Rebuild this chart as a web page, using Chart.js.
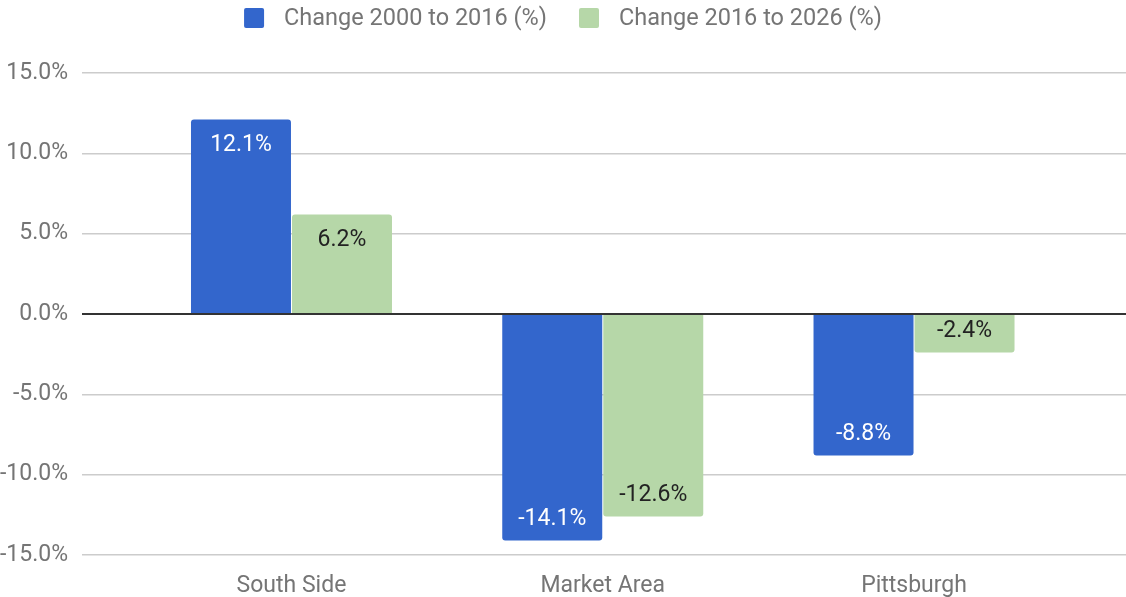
<!DOCTYPE html>
<html>
<head>
<meta charset="utf-8">
<script src="https://cdn.jsdelivr.net/npm/chart.js@4"></script>
<style>
  body { margin: 0; background: #fff; }
  #wrap { width: 1126px; height: 597px; position: relative; }
</style>
</head>
<body>
<div id="wrap"><canvas id="chart"></canvas></div>
<script>
let categories = ['South Side', 'Market Area', 'Pittsburgh']
let seriesNames = ['Change 2000 to 2016 (%)', 'Change 2016 to 2026 (%)']
let change2000to2016 = [12.1, -14.1, -8.8]
let change2016to2026 = [6.2, -12.6, -2.4]
let yTicks = [-15, -10, -5, 0, 5, 10, 15]

let colors = ['#3366cc', '#b6d7a8']
let labelColors = ['#ffffff', '#222222']
let font = 'Roboto'

// legend drawn on the canvas so the box/text gaps match the original
const topLegend = {
  id: 'topLegend',
  afterDraw(chart) {
    const ctx = chart.ctx
    ctx.save()
    ctx.font = '23.5px ' + font
    ctx.textBaseline = 'middle'
    const box = 20, gapText = 20, gapItem = 32
    let widths = chart.data.datasets.map(d => ctx.measureText(d.label).width)
    let total = 0
    widths.forEach((w, i) => { total += box + gapText + w + (i ? gapItem : 0) })
    let x = (chart.width - total) / 2
    const cy = 18
    chart.data.datasets.forEach((d, i) => {
      ctx.fillStyle = d.backgroundColor
      ctx.beginPath()
      ctx.roundRect(x, cy - box / 2, box, box, 2)
      ctx.fill()
      x += box + gapText
      ctx.fillStyle = '#757575'
      ctx.textAlign = 'left'
      ctx.fillText(d.label, x, cy + 1)
      x += widths[i] + gapItem
    })
    ctx.restore()
  }
}

// value labels inside the bar ends
const barLabels = {
  id: 'barLabels',
  afterDatasetsDraw(chart) {
    const ctx = chart.ctx
    ctx.save()
    ctx.font = '23px ' + font
    ctx.textAlign = 'center'
    ctx.textBaseline = 'middle'
    chart.data.datasets.forEach((d, di) => {
      chart.getDatasetMeta(di).data.forEach((el, i) => {
        let v = d.data[i].y
        let y = v >= 0 ? el.y + 26 : el.y - 21
        ctx.fillStyle = labelColors[di]
        ctx.fillText(v.toFixed(1) + '%', el.x, y)
      })
    })
    ctx.restore()
  }
}

new Chart(document.getElementById('chart').getContext('2d'), {
  type: 'bar',
  data: {
    datasets: [change2000to2016, change2016to2026].map((vals, s) => ({
      label: seriesNames[s],
      data: vals.map((v, i) => ({ x: i, y: v })),
      backgroundColor: colors[s],
      borderRadius: 3,
      categoryPercentage: 0.649,
      barPercentage: 0.99
    }))
  },
  options: {
    responsive: true,
    maintainAspectRatio: false,
    animation: false,
    layout: { padding: { top: 73, right: 0, bottom: 0, left: 0 } },
    plugins: { legend: { display: false }, tooltip: { enabled: false } },
    scales: {
      x: {
        type: 'linear',
        min: -0.673,
        max: 2.681,
        offset: false,
        grid: { display: false, offset: false },
        border: { display: false },
        afterBuildTicks: s => { s.ticks = categories.map((c, i) => ({ value: i })) },
        afterFit: s => { s.height = 42 },
        ticks: {
          padding: 9,
          color: '#757575',
          font: { family: font, size: 23 },
          maxRotation: 0,
          autoSkip: false,
          callback: v => categories[v] ?? ''
        }
      },
      y: {
        min: -15,
        max: 15,
        border: { display: false },
        afterBuildTicks: s => { s.ticks = yTicks.map(v => ({ value: v })) },
        afterFit: s => { s.width = 82 },
        grid: {
          drawTicks: false,
          color: c => c.tick.value === 0 ? '#333333' : '#cccccc',
          lineWidth: c => c.tick.value === 0 ? 2 : 1.5
        },
        ticks: {
          padding: 14,
          color: '#757575',
          font: { family: font, size: 23 },
          callback: v => v.toFixed(1) + '%'
        }
      }
    }
  },
  plugins: [topLegend, barLabels]
})
</script>
</body>
</html>
